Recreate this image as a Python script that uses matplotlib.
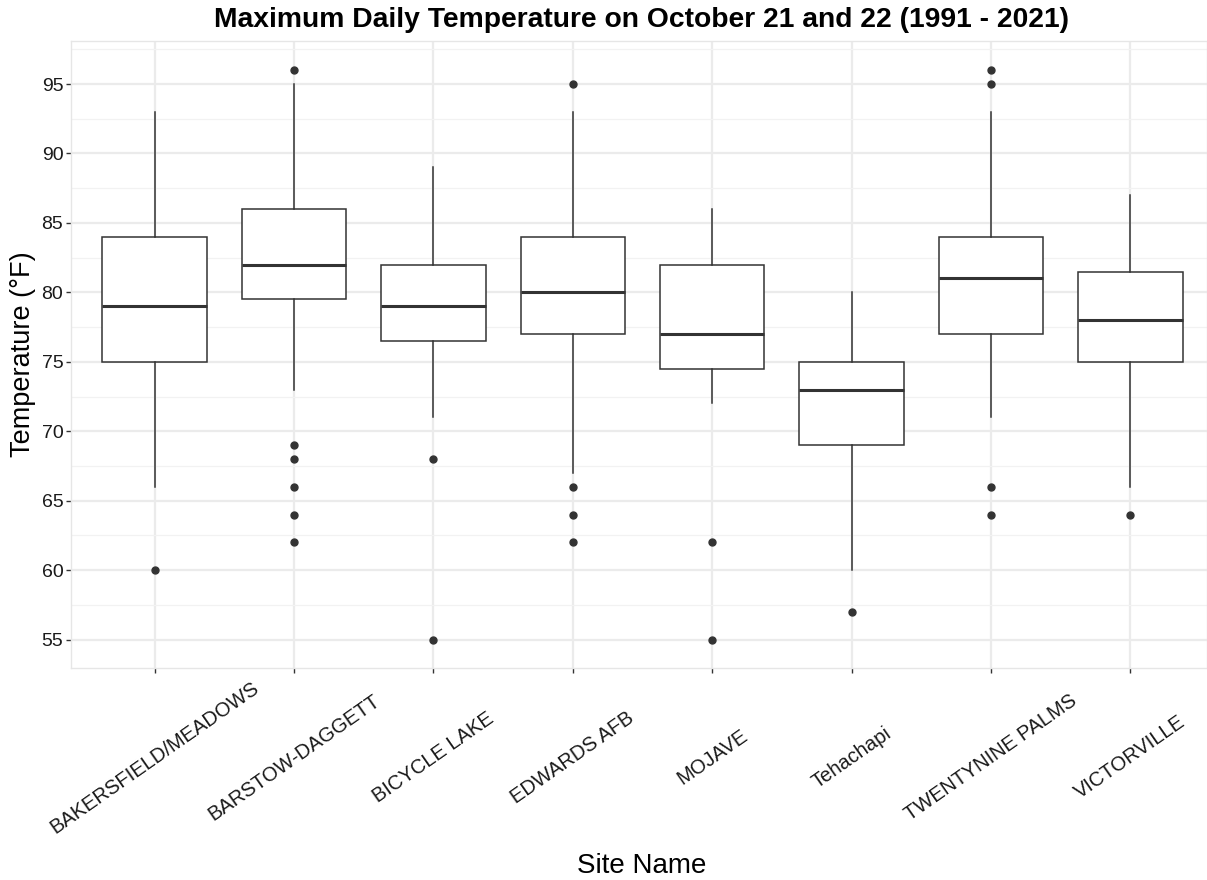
import matplotlib
matplotlib.use("Agg")
import matplotlib.pyplot as plt
from matplotlib.ticker import MultipleLocator

plt.rcParams["font.family"] = ["Liberation Sans", "DejaVu Sans"]

# box summaries
sites = ["BAKERSFIELD/MEADOWS", "BARSTOW-DAGGETT", "BICYCLE LAKE", "EDWARDS AFB",
         "MOJAVE", "Tehachapi", "TWENTYNINE PALMS", "VICTORVILLE"]
whisker_low = [66, 73, 71, 67, 72, 60, 71, 66]
q1 = [75, 79.5, 76.5, 77, 74.5, 69, 77, 75]
median = [79, 82, 79, 80, 77, 73, 81, 78]
q3 = [84, 86, 82, 84, 82, 75, 84, 81.5]
whisker_high = [93, 95, 89, 93, 86, 80, 93, 87]
outliers = [
    [60],
    [96, 69, 68, 66, 64, 62],
    [68, 55],
    [95, 66, 64, 62],
    [62, 55],
    [57],
    [96, 95, 66, 64],
    [64],
]

stats = []
for i, name in enumerate(sites):
    stats.append({
        "label": name,
        "whislo": whisker_low[i],
        "q1": q1[i],
        "med": median[i],
        "q3": q3[i],
        "whishi": whisker_high[i],
        "fliers": outliers[i],
    })

W, H = 1207, 880
fig = plt.figure(figsize=(W / 100, H / 100), dpi=100)
ax = fig.add_axes([71 / W, 1 - 668 / H, 1 - 71 / W, (668 - 41) / H])

dark = "#333333"
grid_c = "#EBEBEB"
positions = list(range(1, len(sites) + 1))
ax.bxp(
    stats,
    positions=positions,
    widths=0.75,
    showcaps=False,
    patch_artist=True,
    boxprops=dict(facecolor="white", edgecolor=dark, linewidth=1.1),
    whiskerprops=dict(color=dark, linewidth=1.1),
    medianprops=dict(color=dark, linewidth=2.2),
    flierprops=dict(marker="o", markerfacecolor=dark, markeredgecolor=dark, markersize=5),
    zorder=3,
)

ax.set_xlim(0.4, 8.55)
ax.set_ylim(52.95, 98.1)
ax.yaxis.set_major_locator(MultipleLocator(5))
ax.yaxis.set_minor_locator(MultipleLocator(2.5))
ax.set_xticks(positions)
ax.set_xticklabels(sites)

ax.grid(True, which="major", color=grid_c, linewidth=1.6, zorder=0)
ax.grid(True, which="minor", axis="y", color="#F2F2F2", linewidth=0.9, zorder=0)
ax.set_axisbelow(True)
for s in ax.spines.values():
    s.set_color("#E6E6E6")
    s.set_linewidth(1.0)

ax.tick_params(axis="both", which="major", length=3.5, width=1.0, color=dark,
               labelsize=14, labelcolor="#1a1a1a")
ax.tick_params(axis="x", labelsize=14.5)
ax.tick_params(axis="y", which="minor", length=0)
ax.tick_params(axis="y", pad=2)
ax.tick_params(axis="x", pad=61)
for lab in ax.get_xticklabels():
    lab.set_rotation(35)
    lab.set_ha("center")
    lab.set_va("center")
    lab.set_rotation_mode("default")

ax.set_ylabel("Temperature (°F)", fontsize=19.5, labelpad=4)
fig.text(642 / W, 1 - 866 / H, "Site Name", fontsize=20, ha="center", va="center")
fig.text(642 / W, 1 - 20 / H, "Maximum Daily Temperature on October 21 and 22 (1991 - 2021)",
         fontsize=20.3, fontweight="bold", ha="center", va="center")

fig.savefig("out.png", dpi=100, facecolor="white")
